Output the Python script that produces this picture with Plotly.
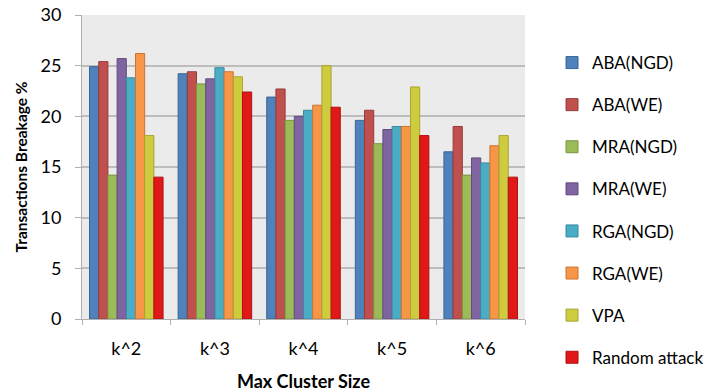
import plotly.graph_objects as go

categories = ["k^2", "k^3", "k^4", "k^5", "k^6"]
series_names = ["ABA(NGD)", "ABA(WE)", "MRA(NGD)", "MRA(WE)", "RGA(NGD)", "RGA(WE)", "VPA", "Random attack"]
aba_ngd = [24.9, 24.2, 21.9, 19.6, 16.5]
aba_we = [25.4, 24.4, 22.7, 20.6, 19.0]
mra_ngd = [14.2, 23.2, 19.6, 17.3, 14.2]
mra_we = [25.7, 23.7, 20.0, 18.7, 15.9]
rga_ngd = [23.8, 24.8, 20.6, 19.0, 15.4]
rga_we = [26.2, 24.4, 21.1, 19.0, 17.1]
vpa = [18.1, 23.9, 25.0, 22.9, 18.1]
random_attack = [14.0, 22.4, 20.9, 18.1, 14.0]
values = [aba_ngd, aba_we, mra_ngd, mra_we, rga_ngd, rga_we, vpa, random_attack]

colors = ["#4F81BD", "#C0504D", "#9BBB59", "#8064A2", "#4BACC6", "#F79646", "#CFCB3E", "#E01818"]
outlines = ["#3A6591", "#963C3A", "#7A9446", "#624C7E", "#3A8A9E", "#C97535", "#A8A530", "#B01010"]

fig = go.Figure()
for i, (name, vals) in enumerate(zip(series_names, values)):
    fig.add_trace(go.Bar(
        x=categories, y=vals, name=name,
        marker=dict(color=colors[i], line=dict(color=outlines[i], width=1)),
        legendgroup=name,
    ))

fig.update_layout(
    width=716, height=392,
    margin=dict(l=82, r=191, t=15, b=73, autoexpand=False),
    paper_bgcolor="white",
    plot_bgcolor="#EBEBEB",
    barmode="group",
    bargap=0.17,
    bargroupgap=0,
    font=dict(family="Lato, Open Sans, sans-serif", size=18, color="black"),
    showlegend=True,
    legend=dict(
        x=1.061, xanchor="left", xref="paper",
        y=1 - 45 / 392, yanchor="top", yref="container",
        font=dict(size=17),
        tracegroupgap=17,
        itemwidth=30,
        maxheight=1.0,
        bgcolor="rgba(0,0,0,0)",
    ),
    xaxis=dict(
        title=dict(text="<b>Max Cluster Size</b>", font=dict(size=18), standoff=18),
        showline=True, linecolor="#B0B0B0", linewidth=1,
        ticks="outside", tickcolor="#B0B0B0", ticklen=5,
        tickson="boundaries",
        ticklabelstandoff=13,
        showgrid=False,
    ),
    yaxis=dict(
        title=dict(text="<b>Transactions Breakage %</b>", font=dict(size=15.5), standoff=9),
        range=[0, 30], dtick=5,
        showline=True, linecolor="#B0B0B0", linewidth=1,
        ticks="outside", tickcolor="#B0B0B0", ticklen=6,
        ticklabelstandoff=10,
        gridcolor="#BDBDBD", gridwidth=1.5,
        zeroline=False,
    ),
)

fig.write_html("out.html")
